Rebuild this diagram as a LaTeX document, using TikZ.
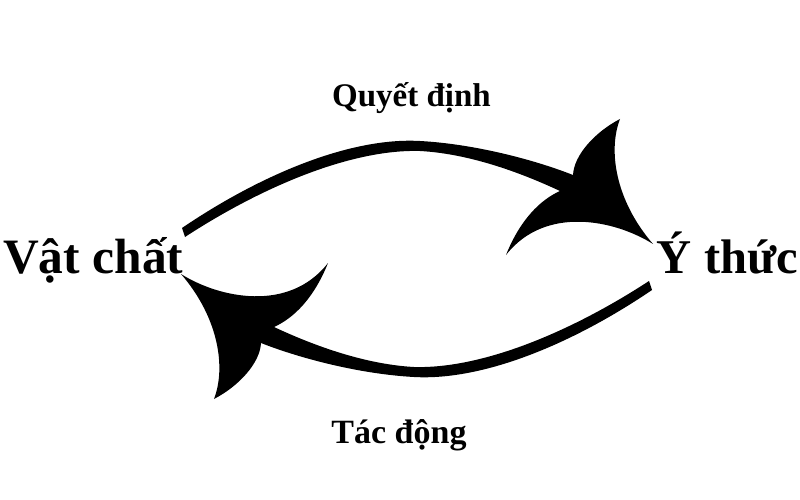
\documentclass[tikz,border=0pt]{standalone}
\usepackage{fontspec}
\setmainfont{Liberation Serif}
\begin{document}
\begin{tikzpicture}[x=1pt,y=-1pt,
  lbl/.style={font=\bfseries\fontsize{33}{40}\selectfont, inner sep=0pt},
  big/.style={font=\bfseries\fontsize{49.5}{58}\selectfont, inner sep=0pt},
  arrowshape/.style={fill=black, draw=none}]
\useasboundingbox (0,0) rectangle (800,500);
\fill[white] (0,0) rectangle (800,500);
% upper arrow
\path[arrowshape] (182,228) .. controls (260,175) and (350,137) .. (420,141)
  .. controls (475,144) and (535,160) .. (573,175)
  .. controls (574,155) and (595,132) .. (620,119)
  .. controls (608,150) and (615,200) .. (653,244)
  .. controls (615,220) and (545,205) .. (506,255)
  .. controls (520,220) and (540,200) .. (560,191)
  .. controls (530,177) and (475,154) .. (420,151)
  .. controls (350,149) and (260,188) .. (185,237) -- cycle;
% lower arrow (point symmetric)
\begin{scope}[rotate around={180:(417,259)}]
\path[arrowshape] (182,228) .. controls (260,175) and (350,137) .. (420,141)
  .. controls (475,144) and (535,160) .. (573,175)
  .. controls (574,155) and (595,132) .. (620,119)
  .. controls (608,150) and (615,200) .. (653,244)
  .. controls (615,220) and (545,205) .. (506,255)
  .. controls (520,220) and (540,200) .. (560,191)
  .. controls (530,177) and (475,154) .. (420,151)
  .. controls (350,149) and (260,188) .. (185,237) -- cycle;
\end{scope}
\node[big, anchor=base west] (vc) at (3,273) {Vật chất};
\node[big, font=\bfseries\fontsize{48.5}{56}\selectfont, anchor=base east] (yt) at (798,273) {Ý thức};
\node[lbl, anchor=base] (qd) at (411.5,107) {Quyết định};
\node[lbl, font=\bfseries\fontsize{34}{40}\selectfont, anchor=base] (td) at (399,443) {Tác động};
\end{tikzpicture}
\end{document}
